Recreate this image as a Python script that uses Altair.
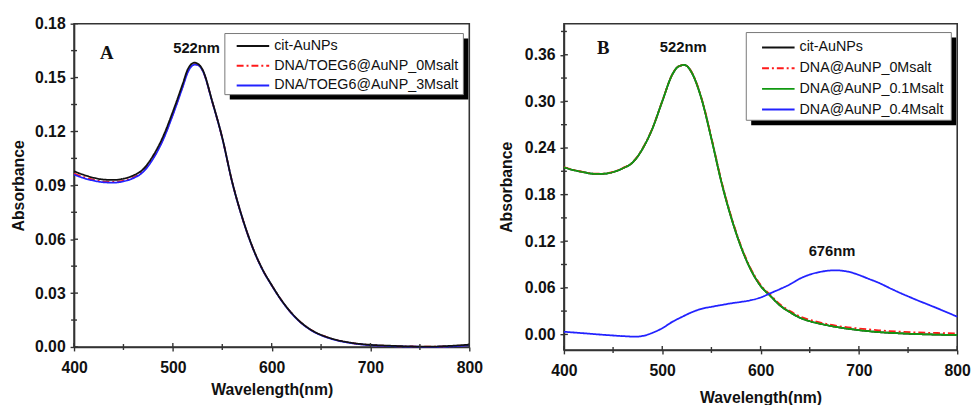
import altair as alt
import pandas as pd

# ---------------- Panel A data ----------------
A_series = ["cit-AuNPs", "DNA/TOEG6@AuNP_0Msalt", "DNA/TOEG6@AuNP_3Msalt"]
A_colors = ["#111111", "#ff1a1a", "#2222ff"]
A_dashes = [[1, 0], [7, 3, 2, 3], [1, 0]]

A_wl = [400, 410, 420, 430, 440, 450, 460, 470, 480, 490, 500, 510, 515, 520, 522, 525, 530,
        540, 550, 560, 570, 580, 590, 600, 610, 620, 630, 640, 660, 680, 700, 720, 740, 760, 780, 800]
A_cit = [0.0978, 0.0958, 0.0942, 0.0932, 0.0930, 0.0937, 0.0955, 0.0990, 0.1065, 0.1170, 0.1310,
         0.1465, 0.1545, 0.1580, 0.1583, 0.1578, 0.1545, 0.1365, 0.1165, 0.0920, 0.0725, 0.0565,
         0.0440, 0.0345, 0.0260, 0.0190, 0.0135, 0.0095, 0.0048, 0.0024, 0.0012, 0.0007, 0.0003,
         0.0002, 0.0006, 0.0013]
A_0M = [0.0966, 0.0946, 0.0931, 0.0921, 0.0919, 0.0926, 0.0944, 0.0979, 0.1052, 0.1156, 0.1296,
        0.1452, 0.1532, 0.1571, 0.1575, 0.1572, 0.1541, 0.1363, 0.1164, 0.0919, 0.0724, 0.0564,
        0.0439, 0.0344, 0.0259, 0.0189, 0.0134, 0.0094, 0.0047, 0.0023, 0.0011, 0.0006, 0.0003,
        0.0002, 0.0004, 0.0011]
A_3M = [0.0960, 0.0940, 0.0926, 0.0917, 0.0915, 0.0922, 0.0940, 0.0975, 0.1048, 0.1152, 0.1292,
        0.1448, 0.1528, 0.1568, 0.1572, 0.1570, 0.1540, 0.1362, 0.1163, 0.0918, 0.0723, 0.0563,
        0.0438, 0.0343, 0.0258, 0.0188, 0.0133, 0.0093, 0.0046, 0.0022, 0.0010, 0.0005, 0.0002,
        0.0001, 0.0003, 0.0010]

# ---------------- Panel B data ----------------
B_series = ["cit-AuNPs", "DNA@AuNP_0Msalt", "DNA@AuNP_0.1Msalt", "DNA@AuNP_0.4Msalt"]
B_colors = ["#111111", "#ff1a1a", "#119911", "#2222ff"]
B_dashes = [[1, 0], [7, 3, 2, 3], [1, 0], [1, 0]]

B_wl = [400, 410, 420, 430, 440, 450, 460, 470, 480, 490, 500, 510, 515, 520, 522, 525, 530,
        540, 550, 560, 570, 580, 590, 600, 610, 620, 630, 640, 650, 660, 680, 700, 720, 740,
        760, 780, 800]
B_cit = [0.2150, 0.2115, 0.2088, 0.2068, 0.2068, 0.2090, 0.2139, 0.2215, 0.2390, 0.2650, 0.3000,
         0.3340, 0.3435, 0.3465, 0.3470, 0.3455, 0.3370, 0.3030, 0.2520, 0.1970, 0.1510, 0.1130,
         0.0835, 0.0625, 0.0495, 0.0370, 0.0285, 0.0215, 0.0170, 0.0139, 0.0090, 0.0055, 0.0030,
         0.0015, 0.0004, -0.0003, -0.0008]
B_0M = [0.2155, 0.2118, 0.2090, 0.2070, 0.2070, 0.2092, 0.2141, 0.2218, 0.2393, 0.2653, 0.3003,
        0.3342, 0.3437, 0.3466, 0.3471, 0.3457, 0.3375, 0.3040, 0.2535, 0.1985, 0.1525, 0.1145,
        0.0848, 0.0638, 0.0508, 0.0385, 0.0300, 0.0232, 0.0188, 0.0155, 0.0106, 0.0076, 0.0053,
        0.0036, 0.0025, 0.0018, 0.0013]
B_01M = [0.2150, 0.2115, 0.2088, 0.2068, 0.2068, 0.2090, 0.2139, 0.2215, 0.2390, 0.2650, 0.3000,
         0.3340, 0.3435, 0.3465, 0.3470, 0.3455, 0.3370, 0.3030, 0.2520, 0.1970, 0.1510, 0.1130,
         0.0835, 0.0625, 0.0495, 0.0370, 0.0285, 0.0215, 0.0170, 0.0139, 0.0090, 0.0055, 0.0030,
         0.0015, 0.0004, -0.0003, -0.0008]
B_04M_wl = [400, 420, 440, 460, 473, 480, 490, 500, 510, 520, 530, 540, 550, 560, 570, 580, 590,
            600, 610, 620, 630, 640, 650, 660, 676, 690, 700, 710, 720, 734, 740, 760, 780, 800]
B_04M = [0.0034, 0.0015, -0.0005, -0.0022, -0.0029, -0.0020, 0.0020, 0.0080, 0.0160, 0.0225,
         0.0285, 0.0330, 0.0355, 0.0378, 0.0400, 0.0418, 0.0440, 0.0475, 0.0530, 0.0585, 0.0645,
         0.0718, 0.0770, 0.0803, 0.0825, 0.0805, 0.0765, 0.0715, 0.0665, 0.0580, 0.0545, 0.0437,
         0.0335, 0.0228]

# ---------------- ticks and annotations ----------------
x_major = [400, 500, 600, 700, 800]
x_minor = [450, 550, 650, 750]
A_y_major = [0.0, 0.03, 0.06, 0.09, 0.12, 0.15, 0.18]
A_y_minor = [0.015, 0.045, 0.075, 0.105, 0.135, 0.165]
B_y_major = [0.0, 0.06, 0.12, 0.18, 0.24, 0.30, 0.36]
B_y_minor = [0.03, 0.09, 0.15, 0.21, 0.27, 0.33, 0.39]

A_notes_text = ["522nm"]
A_notes_x = [524]
A_notes_y = [0.1663]
A_letter = ["A"]
A_letter_x = [433]
A_letter_y = [0.1636]

B_notes_text = ["522nm", "676nm"]
B_notes_x = [521.3, 672.7]
B_notes_y = [0.3695, 0.1069]
B_letter = ["B"]
B_letter_x = [440]
B_letter_y = [0.368]

FONT = "Liberation Sans"
AXIS_COLOR = "#333333"


def long_df(wls, vals, names):
    rows = []
    for wl, v, n in zip(wls, vals, names):
        for a, b in zip(wl, v):
            rows.append({"wl": a, "abs": b, "series": n})
    return pd.DataFrame(rows)


dfA = long_df([A_wl, A_wl, A_wl], [A_cit, A_0M, A_3M], A_series)
dfB = long_df([B_wl, B_wl, B_wl, B_04M_wl], [B_cit, B_0M, B_01M, B_04M], B_series)


def panel(df, series, colors, dashes, draw_order, ydom, ymaj, ymin, notes, letter,
          width, height, legx, legy, rowh, box, title_pad, xtitle_pad):
    xs = alt.Scale(domain=[400, 800], nice=False, zero=False)
    ys = alt.Scale(domain=ydom, nice=False, zero=False)
    xaxis = alt.Axis(values=x_major, title="Wavelength(nm)", labelFont=FONT, labelFontSize=16,
                     labelFontWeight="bold", titleFont=FONT, titleFontSize=16, titleFontWeight="bold",
                     tickSize=4, labelPadding=9, titlePadding=xtitle_pad, grid=False, labelFlush=False,
                     domainColor=AXIS_COLOR, domainWidth=1.6, tickColor=AXIS_COLOR, tickWidth=1.4,
                     labelColor="#111", titleColor="#111")
    yaxis = alt.Axis(values=ymaj, title="Absorbance", format=".2f", labelFont=FONT, labelFontSize=16,
                     labelFontWeight="bold", titleFont=FONT, titleFontSize=16, titleFontWeight="bold",
                     tickSize=4, labelPadding=5, titlePadding=title_pad, grid=False, labelFlush=False,
                     domainColor=AXIS_COLOR, domainWidth=1.6, tickColor=AXIS_COLOR, tickWidth=1.4,
                     labelColor="#111", titleColor="#111")
    color = alt.Color("series:N", scale=alt.Scale(domain=series, range=colors), sort=series,
                      legend=alt.Legend(title=None, orient="none", legendX=legx, legendY=legy,
                                        labelFont=FONT, labelFontSize=14.5, labelColor="#111",
                                        symbolType="stroke", symbolSize=1089, symbolStrokeWidth=2,
                                        padding=0, rowPadding=0, clipHeight=rowh, labelOffset=4,
                                        labelLimit=400))
    dash = alt.StrokeDash("series:N", scale=alt.Scale(domain=series, range=dashes), sort=series,
                          legend=None)

    layers = []
    for s in draw_order:
        layers.append(
            alt.Chart(df).transform_filter(alt.datum.series == s)
            .mark_line(strokeWidth=1.8, interpolate="monotone")
            .encode(x=alt.X("wl:Q", scale=xs, axis=xaxis),
                    y=alt.Y("abs:Q", scale=ys, axis=yaxis),
                    color=color, strokeDash=dash)
        )
    # minor / inward ticks
    ymin_df = pd.DataFrame({"v": ymin})
    ymaj_df = pd.DataFrame({"v": ymaj})
    xmin_df = pd.DataFrame({"v": x_minor})
    xmaj_df = pd.DataFrame({"v": x_major})
    tick_style = dict(color=AXIS_COLOR, strokeWidth=1.4)
    layers.append(alt.Chart(ymin_df).mark_rule(**tick_style).encode(
        y=alt.Y("v:Q", scale=ys), x=alt.value(-3), x2=alt.value(3)))
    layers.append(alt.Chart(ymaj_df).mark_rule(**tick_style).encode(
        y=alt.Y("v:Q", scale=ys), x=alt.value(0), x2=alt.value(4)))
    layers.append(alt.Chart(xmin_df).mark_rule(**tick_style).encode(
        x=alt.X("v:Q", scale=xs), y=alt.value(height - 3), y2=alt.value(height + 3)))
    layers.append(alt.Chart(xmaj_df).mark_rule(**tick_style).encode(
        x=alt.X("v:Q", scale=xs), y=alt.value(height - 4), y2=alt.value(height)))
    # annotations
    ntext, nx, ny = notes
    layers.append(alt.Chart(pd.DataFrame({"t": ntext, "x": nx, "y": ny}))
                  .mark_text(font=FONT, fontSize=15, fontWeight="bold", color="#111")
                  .encode(x=alt.X("x:Q", scale=xs), y=alt.Y("y:Q", scale=ys), text="t:N"))
    ltext, lx, ly = letter
    layers.append(alt.Chart(pd.DataFrame({"t": ltext, "x": lx, "y": ly}))
                  .mark_text(font="Liberation Serif", fontSize=19, fontWeight="bold", color="#111")
                  .encode(x=alt.X("x:Q", scale=xs), y=alt.Y("y:Q", scale=ys), text="t:N"))
    # legend frame with drop shadow
    bx0, by0, bx1, by1 = box
    one = pd.DataFrame({"k": [0]})
    layers.append(alt.Chart(one).mark_rect(color="#000000").encode(
        x=alt.value(bx0 + 5), x2=alt.value(bx1 + 5), y=alt.value(by0 + 5), y2=alt.value(by1 + 5)))
    layers.append(alt.Chart(one).mark_rect(fill="white", stroke="#777777", strokeWidth=1).encode(
        x=alt.value(bx0), x2=alt.value(bx1), y=alt.value(by0), y2=alt.value(by1)))
    return alt.layer(*layers).properties(width=width, height=height)


chartA = panel(dfA, A_series, A_colors, A_dashes,
               ["DNA/TOEG6@AuNP_0Msalt", "DNA/TOEG6@AuNP_3Msalt", "cit-AuNPs"],
               [0, 0.18], A_y_major, A_y_minor,
               (A_notes_text, A_notes_x, A_notes_y), (A_letter, A_letter_x, A_letter_y),
               401, 328, 164, 13, 19.3, (153, 10, 395, 72), 8, 6)
chartB = panel(dfB, B_series, B_colors, B_dashes,
               ["cit-AuNPs", "DNA@AuNP_0Msalt", "DNA@AuNP_0.1Msalt", "DNA@AuNP_0.4Msalt"],
               [-0.02, 0.40], B_y_major, B_y_minor,
               (B_notes_text, B_notes_x, B_notes_y), (B_letter, B_letter_x, B_letter_y),
               399, 331, 200, 14, 20.3, (185, 9, 393, 98), 10, 11)

chart = alt.hconcat(chartA, chartB, spacing=96, bounds="flush").resolve_scale(
    color="independent", strokeDash="independent", x="independent", y="independent"
).configure_view(stroke=AXIS_COLOR, strokeWidth=1.6).properties(
    padding={"left": 2, "top": 4, "right": 0, "bottom": 0}, background="white")

chart.save("out.html", embed_options={"renderer": "svg", "actions": False})
